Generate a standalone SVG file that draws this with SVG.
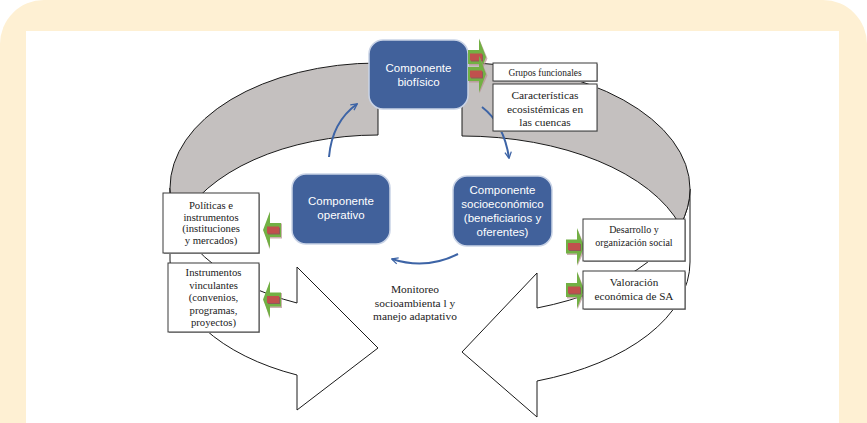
<svg xmlns="http://www.w3.org/2000/svg" width="867" height="423" viewBox="0 0 867 423">
  <defs>
    <style>
      .band { fill: #C4C0BF; stroke: #1a1a1a; stroke-width: 1; }
      .front { fill: #FFFFFF; stroke: #1a1a1a; stroke-width: 1; }
      .comp rect { fill: #41619B; stroke: #C9D3E6; stroke-width: 1.5; }
      .comp text { font-family: "Liberation Sans", Arial, sans-serif; font-size: 11.5px; fill: #FFFFFF; text-anchor: middle; }
      .note rect.box { fill: #FFFFFF; stroke: #3a3a3a; stroke-width: 1; }
      .note rect.shd { fill: #A8A8A8; }
      .note text { font-family: "Liberation Serif", "Times New Roman", serif; fill: #222222; text-anchor: middle; }
      .free text { font-family: "Liberation Serif", "Times New Roman", serif; font-size: 11.4px; fill: #222222; text-anchor: middle; }
      .flow { fill: none; stroke: #3D64A6; stroke-width: 2; }
    </style>
    <marker id="chev" viewBox="0 0 10 10" refX="8.5" refY="5" markerWidth="8" markerHeight="8" markerUnits="userSpaceOnUse" orient="auto">
      <path d="M1,1 L9,5 L1,9" fill="none" stroke="#3D64A6" stroke-width="1.6"/>
    </marker>
    <!-- small green pointer with red bar, tip at origin, pointing right -->
    <g id="ptr-r">
      <polygon points="-17,-6.5 -6.5,-6.5 -6.5,-17.5 1.5,1.5 -6.5,19.5 -6.5,8.5 -17,8.5" fill="#B89090" opacity="0.7"/>
      <polygon points="-18,-7 -7,-7 -7,-18.5 0,0 -7,18.5 -7,7 -18,7" fill="#72B044"/>
      <rect x="-15" y="-2.5" width="12" height="7" fill="#8E5A58"/>
      <rect x="-16" y="-3.5" width="12" height="7" fill="#C0504D"/>
    </g>
    <g id="ptr-l">
      <polygon points="17,-6.5 6.5,-6.5 6.5,-17.5 1.5,1.5 6.5,19.5 6.5,8.5 19,8.5 19,-6.5" fill="#B89090" opacity="0.7"/>
      <polygon points="18,-7 7,-7 7,-18.5 0,0 7,18.5 7,7 18,7" fill="#72B044"/>
      <rect x="5" y="-2.5" width="12" height="7" fill="#8E5A58"/>
      <rect x="4" y="-3.5" width="12" height="7" fill="#C0504D"/>
    </g>
  </defs>

  <!-- page frame -->
  <rect x="0" y="0" width="867" height="423" fill="#FFFFFF"/>
  <rect x="0" y="0" width="867" height="480" rx="44" ry="44" fill="#FEF0D3"/>
  <rect x="26" y="31" width="813" height="400" fill="#FFFFFF"/>

  <!-- left curved arrow, pointing right -->
  <g id="loop-left">
    <path class="front" d="M170,188 A208,125 0 0 0 297,303 L297,267 L378,348 L297,410 L297,375 A208,125 0 0 1 170,260 Z"/>
    <path class="band" d="M378,63 A208,125 0 0 0 170,188 A208,125 0 0 0 179,224 A208,125 0 0 1 378,135 Z"/>
  </g>

  <!-- right curved arrow, pointing left -->
  <g id="loop-right">
    <path class="front" d="M690,189 A228,126 0 0 1 537,308 L537,273 L462,352 L537,417 L537,381 A228,126 0 0 0 690,262 Z"/>
    <path class="band" d="M462,63 A228,126 0 0 1 690,189 A228,126 0 0 1 680.2,225.5 A228,126 0 0 0 462,136 Z"/>
  </g>

  <!-- cycle connectors -->
  <g id="connectors">
    <path class="flow" d="M329,157 Q332,122 357,104" marker-end="url(#chev)"/>
    <path class="flow" d="M482,107 Q504,124 509,158" marker-end="url(#chev)"/>
    <path class="flow" d="M458,254 Q426,270 392,259" marker-end="url(#chev)"/>
  </g>

  <!-- components -->
  <g id="biofisico" class="comp">
    <rect x="369" y="40" width="99" height="69" rx="14" ry="14"/>
    <text x="418.5" y="72">Componente</text>
    <text x="418.5" y="86">biofísico</text>
  </g>
  <g id="operativo" class="comp">
    <rect x="292" y="174" width="98" height="70" rx="14" ry="14"/>
    <text x="341" y="205">Componente</text>
    <text x="341" y="219">operativo</text>
  </g>
  <g id="socioeconomico" class="comp">
    <rect x="453" y="176" width="99" height="70" rx="14" ry="14"/>
    <text x="502.5" y="194">Componente</text>
    <text x="502.5" y="208">socioeconómico</text>
    <text x="502.5" y="222">(beneficiarios y</text>
    <text x="502.5" y="236">oferentes)</text>
  </g>

  <!-- pointers -->
  <g id="pointers">
    <use href="#ptr-r" transform="translate(486,57)"/>
    <use href="#ptr-r" transform="translate(486,74)"/>
    <use href="#ptr-r" transform="translate(584,246.5)"/>
    <use href="#ptr-r" transform="translate(584,290)"/>
    <use href="#ptr-l" transform="translate(263,230)"/>
    <use href="#ptr-l" transform="translate(263,299.5)"/>
  </g>

  <!-- notes -->
  <g id="grupos" class="note">
    <rect class="shd" x="494" y="64" width="104" height="18"/>
    <rect class="box" x="493" y="63" width="104" height="18"/>
    <text x="545" y="76" font-size="9.4">Grupos funcionales</text>
  </g>
  <g id="caracteristicas" class="note">
    <rect class="shd" x="494" y="85" width="104" height="47"/>
    <rect class="box" x="493" y="84" width="104" height="47"/>
    <text x="545" y="99" font-size="11.4">Características</text>
    <text x="545" y="112.5" font-size="11.4">ecosistémicas en</text>
    <text x="545" y="126" font-size="11.4">las cuencas</text>
  </g>
  <g id="politicas" class="note">
    <rect class="shd" x="164" y="194" width="96" height="60"/>
    <rect class="box" x="163" y="193" width="96" height="60"/>
    <text x="211" y="209" font-size="10.7">Políticas e</text>
    <text x="211" y="220.5" font-size="10.7">instrumentos</text>
    <text x="211" y="232" font-size="10.7">(instituciones</text>
    <text x="211" y="243.5" font-size="10.7">y mercados)</text>
  </g>
  <g id="instrumentos" class="note">
    <rect class="shd" x="169" y="264" width="91" height="69"/>
    <rect class="box" x="168" y="263" width="91" height="69"/>
    <text x="213.5" y="276" font-size="10.7">Instrumentos</text>
    <text x="213.5" y="288.5" font-size="10.7">vinculantes</text>
    <text x="213.5" y="301" font-size="10.7">(convenios,</text>
    <text x="213.5" y="313.5" font-size="10.7">programas,</text>
    <text x="213.5" y="326" font-size="10.7">proyectos)</text>
  </g>
  <g id="desarrollo" class="note">
    <rect class="shd" x="584" y="220" width="102" height="42"/>
    <rect class="box" x="583" y="219" width="102" height="42"/>
    <text x="634" y="232.5" font-size="10">Desarrollo y</text>
    <text x="634" y="245.5" font-size="10">organización social</text>
  </g>
  <g id="valoracion" class="note">
    <rect class="shd" x="584" y="272" width="102" height="38"/>
    <rect class="box" x="583" y="271" width="102" height="38"/>
    <text x="634" y="286" font-size="11.2">Valoración</text>
    <text x="634" y="299.5" font-size="11.2">económica de SA</text>
  </g>

  <!-- centre caption -->
  <g id="monitoreo" class="free">
    <text x="415" y="293">Monitoreo</text>
    <text x="415" y="306.5">socioambienta l y</text>
    <text x="415" y="320">manejo adaptativo</text>
  </g>
</svg>
